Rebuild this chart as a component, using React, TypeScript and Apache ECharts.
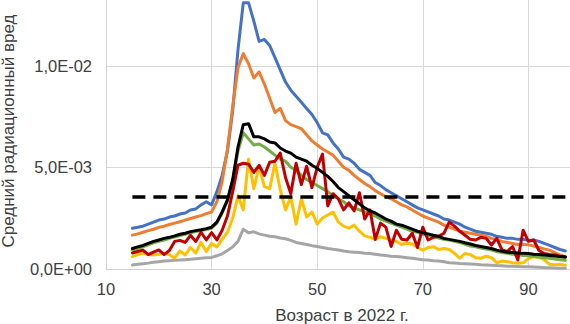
import React, { useEffect, useRef } from "react";
import * as echarts from "echarts";

// Ages 15..97
const ages: number[] = [];
for (let a = 15; a <= 97; a++) ages.push(a);

// Values in units of 1E-03
const blueVals = [
  2.0, 2.05, 2.1, 2.2, 2.3, 2.4, 2.45, 2.55, 2.6, 2.7, 2.75, 2.9, 2.95, 3.15, 3.3, 3.15,
  3.8, 4.6, 5.8, 7.8, 10.8, 13.1, 13.1, 12.2, 11.2, 11.3, 11.0, 10.4, 9.8, 9.2, 8.8, 8.5,
  8.2, 7.9, 7.6, 7.2, 6.7, 6.6, 6.2, 5.9, 5.5, 5.4, 5.2, 4.9, 4.75, 4.6, 4.25, 4.1, 3.9,
  3.75, 3.6, 3.45, 3.3, 3.15, 3.0, 2.9, 2.8, 2.7, 2.6, 2.45, 2.4, 2.3, 2.2, 2.05, 1.95,
  1.85, 1.8, 1.75, 1.7, 1.6, 1.55, 1.5, 1.5, 1.45, 1.45, 1.4, 1.42, 1.35, 1.25, 1.15,
  1.05, 0.95, 0.88,
];
const orangeVals = [
  1.66, 1.72, 1.8, 1.88, 1.95, 2.04, 2.1, 2.18, 2.25, 2.32, 2.4, 2.48, 2.55, 2.62, 2.72,
  2.8, 3.3, 4.3, 5.9, 8.0, 9.9, 10.6, 10.1, 9.4, 9.7, 9.1, 8.4, 7.7, 7.9, 7.3, 7.1, 7.0,
  6.9, 6.6, 6.3, 6.1, 5.9, 5.75, 5.6, 5.3, 5.0, 4.85, 4.6, 4.4, 4.2, 4.05, 3.85, 3.7,
  3.55, 3.45, 3.3, 3.15, 3.05, 2.9, 2.75, 2.6, 2.5, 2.4, 2.3, 2.15, 2.05, 1.95, 1.85,
  1.8, 1.75, 1.7, 1.65, 1.6, 1.5, 1.45, 1.35, 1.3, 1.25, 1.2, 1.2, 1.18, 1.12, 1.05,
  0.98, 0.92, 0.8, 0.68, 0.6,
];
const blackVals = [
  1.0, 1.08, 1.15, 1.25, 1.35, 1.42, 1.5, 1.55, 1.62, 1.7, 1.75, 1.83, 1.88, 1.92, 1.98,
  2.05, 2.3, 2.8, 3.4, 4.4, 6.0, 7.1, 7.15, 6.5, 6.5, 6.4, 6.25, 6.2, 5.95, 5.8, 5.7,
  5.5, 5.4, 5.3, 5.1, 4.95, 4.75, 4.55, 4.3, 4.0, 3.8, 3.6, 3.4, 3.2, 3.0, 2.85, 2.75,
  2.6, 2.45, 2.35, 2.2, 2.15, 2.05, 1.95, 1.85, 1.78, 1.72, 1.65, 1.6, 1.5, 1.45, 1.4,
  1.35, 1.28, 1.22, 1.15, 1.1, 1.05, 1.0, 0.92, 0.86, 0.82, 0.8, 0.78, 0.76, 0.75, 0.72,
  0.7, 0.68, 0.66, 0.63, 0.6, 0.58,
];
const greenVals = [
  0.92, 1.0, 1.08, 1.18, 1.28, 1.35, 1.42, 1.5, 1.56, 1.64, 1.7, 1.78, 1.83, 1.88, 1.94,
  2.0, 2.25, 2.75, 3.35, 4.35, 5.8, 6.7, 6.4, 6.1, 6.15, 6.0, 5.8, 5.6, 5.4, 5.3, 5.0,
  4.85, 4.6, 4.4, 4.25, 4.1, 3.95, 3.8, 3.6, 3.45, 3.3, 3.1, 3.0, 2.9, 2.8, 2.72, 2.6,
  2.45, 2.35, 2.25, 2.15, 2.05, 1.95, 1.85, 1.8, 1.7, 1.65, 1.6, 1.52, 1.45, 1.42, 1.35,
  1.3, 1.2, 1.12, 1.08, 1.02, 0.98, 0.92, 0.85, 0.8, 0.76, 0.72, 0.7, 0.66, 0.64, 0.6,
  0.58, 0.55, 0.52, 0.48, 0.45, 0.42,
];
const redVals = [
  0.78, 0.85, 0.92, 0.7, 0.82, 0.93, 0.7, 0.9, 1.35, 1.4, 1.3, 1.65, 1.35, 1.8, 1.42,
  1.78, 1.42, 1.9, 2.6, 3.8, 5.1, 5.2, 5.15, 4.75, 5.1, 4.6, 5.25, 5.3, 5.7, 4.5, 3.7,
  5.2, 4.15, 5.05, 4.0, 5.0, 5.65, 3.1, 3.7, 3.45, 2.9, 3.25, 2.85, 3.75, 2.45, 2.9,
  1.45, 2.25, 2.05, 1.1, 1.9, 1.45, 1.42, 1.75, 1.05, 2.05, 1.42, 1.55, 1.6, 1.75, 2.3,
  2.1, 1.85, 1.65, 1.45, 1.42, 1.55, 1.5, 1.17, 1.5, 0.93, 0.85, 1.1, 0.43, 1.9, 1.35,
  1.42, 0.9, 0.75, 0.7, 0.68, 0.62, 0.58,
];
const yellowVals = [
  0.6, 0.7, 0.78, 0.7, 0.68, 0.72, 0.76, 0.7, 0.52, 0.88, 0.68, 1.05, 0.78, 1.3, 0.85,
  1.25, 1.08, 1.45, 1.8, 2.5, 3.6, 2.9, 5.4, 3.95, 5.05, 4.05, 3.95, 5.2, 3.9, 2.9, 3.55,
  2.2, 3.45, 2.55, 2.8, 2.2, 2.5, 2.65, 2.8, 2.3, 2.1, 2.0, 2.15, 1.85, 1.62, 1.55, 1.45,
  1.58, 1.5, 1.42, 1.35, 1.2, 1.26, 1.22, 1.05, 0.92, 1.05, 1.09, 0.95, 1.0, 0.95, 0.76,
  0.52, 0.76, 0.7, 0.55, 0.52, 0.62, 0.55, 0.3, 0.38, 0.35, 0.3, 0.27, 0.3, 0.5, 0.6,
  0.55, 0.45, 0.22, 0.2, 0.22, 0.18,
];
const grayVals = [
  0.19, 0.22, 0.25, 0.28, 0.32, 0.35, 0.38, 0.4, 0.42, 0.43, 0.45, 0.47, 0.5, 0.52, 0.54,
  0.56, 0.64, 0.74, 0.9, 1.08, 1.35, 1.95, 1.78, 1.82, 1.72, 1.66, 1.6, 1.58, 1.52, 1.48,
  1.4, 1.3, 1.25, 1.2, 1.14, 1.1, 1.05, 1.0, 0.96, 0.93, 0.88, 0.84, 0.82, 0.8, 0.77,
  0.75, 0.72, 0.68, 0.66, 0.62, 0.6, 0.58, 0.55, 0.52, 0.48, 0.45, 0.43, 0.4, 0.38, 0.35,
  0.3, 0.28, 0.26, 0.25, 0.24, 0.22, 0.2, 0.19, 0.18, 0.16, 0.15, 0.13, 0.12, 0.11, 0.1,
  0.1, 0.09, 0.08, 0.06, 0.05, 0.04, 0.03, 0.03,
];
const thresholdVal = 3.54; // 1E-03 units
const thresholdAges = [15, 97];

const xTicks = [10, 30, 50, 70, 90];
const yTicks = [0, 0.005, 0.01];
const yTickStep = 0.005;

const FONT = "'Liberation Sans', Arial, sans-serif";
const TXT = "#404040";

// The chart canvas is larger than the window; the window shows a crop of it.
const OFF_TOP = 40;
const CW = 640;
const CH = 324 + OFF_TOP;

function sci(v: number): string {
  if (v === 0) return "0,0E+00";
  const e = Math.floor(Math.log10(Math.abs(v)) + 1e-9);
  const m = v / Math.pow(10, e);
  const sign = e < 0 ? "-" : "+";
  const ae = Math.abs(e);
  return m.toFixed(1).replace(".", ",") + "E" + sign + (ae < 10 ? "0" + ae : "" + ae);
}

function pts(vals: number[]) {
  return ages.map((a, i) => [a, vals[i] / 1000]);
}

export default function App() {
  const ref = useRef<HTMLDivElement>(null);
  useEffect(() => {
    if (!ref.current) return;
    const chart = echarts.init(ref.current, null, { renderer: "svg" });
    const line = (name: string, vals: number[], color: string) => ({
      name,
      type: "line",
      data: pts(vals),
      showSymbol: false,
      symbol: "none",
      lineStyle: { color, width: 3, join: "round", cap: "round" },
      itemStyle: { color },
      z: 2,
    });
    chart.setOption({
      animation: false,
      backgroundColor: "#ffffff",
      grid: {
        left: 106,
        right: CW - 634,
        top: OFF_TOP - 35.7,
        bottom: 55.2,
        outerBoundsMode: "none",
      },
      xAxis: {
        type: "value",
        min: xTicks[0],
        max: 110,
        interval: 20,
        axisLine: { show: true, lineStyle: { color: "#d0d0d0", width: 1 } },
        axisTick: { show: false },
        splitLine: { show: true, lineStyle: { color: "#d9d9d9", width: 1 } },
        axisLabel: {
          color: TXT,
          fontSize: 16.5,
          fontFamily: FONT,
          margin: 12,
          formatter: (v: number) => (xTicks.includes(v) ? String(v) : ""),
        },
      },
      yAxis: {
        type: "value",
        min: 0,
        max: 0.015,
        interval: yTickStep,
        axisLine: { show: true, lineStyle: { color: "#d0d0d0", width: 1 } },
        axisTick: { show: false },
        splitLine: { show: true, lineStyle: { color: "#d9d9d9", width: 1 } },
        axisLabel: {
          color: TXT,
          fontSize: 16.5,
          fontFamily: FONT,
          margin: 14,
          formatter: (v: number) =>
            yTicks.some((t) => Math.abs(t - v) < 1e-9) ? sci(v) : "",
        },
      },
      graphic: [
        {
          type: "text",
          x: 342,
          y: 315 + OFF_TOP,
          style: {
            text: "Возраст в 2022 г.",
            fill: TXT,
            font: `17px ${FONT}`,
            align: "center",
            verticalAlign: "middle",
          },
        },
        {
          type: "text",
          x: 8,
          y: 131 + OFF_TOP,
          rotation: Math.PI / 2,
          style: {
            text: "Средний радиационный вред",
            fill: TXT,
            font: `17px ${FONT}`,
            align: "center",
            verticalAlign: "middle",
          },
        },
      ],
      series: [
        line("s1", blueVals, "#4472C4"),
        line("s2", orangeVals, "#ED7D31"),
        line("s3", grayVals, "#A5A5A5"),
        line("s4", yellowVals, "#FFC000"),
        line("s5", greenVals, "#70AD47"),
        line("s6", redVals, "#C00000"),
        line("s7", blackVals, "#000000"),
        {
          name: "threshold",
          type: "line",
          data: thresholdAges.map((a) => [a, thresholdVal / 1000]),
          showSymbol: false,
          symbol: "none",
          lineStyle: { color: "#000000", width: 3.5, type: [13, 8] },
          z: 3,
        },
      ],
    });
    return () => chart.dispose();
  }, []);
  return (
    <div
      style={{
        position: "fixed",
        left: 0,
        top: 0,
        width: 570,
        height: 324,
        overflow: "hidden",
        background: "#fff",
      }}
    >
      <div
        ref={ref}
        style={{ position: "absolute", left: 0, top: -OFF_TOP, width: CW, height: CH }}
      />
    </div>
  );
}
